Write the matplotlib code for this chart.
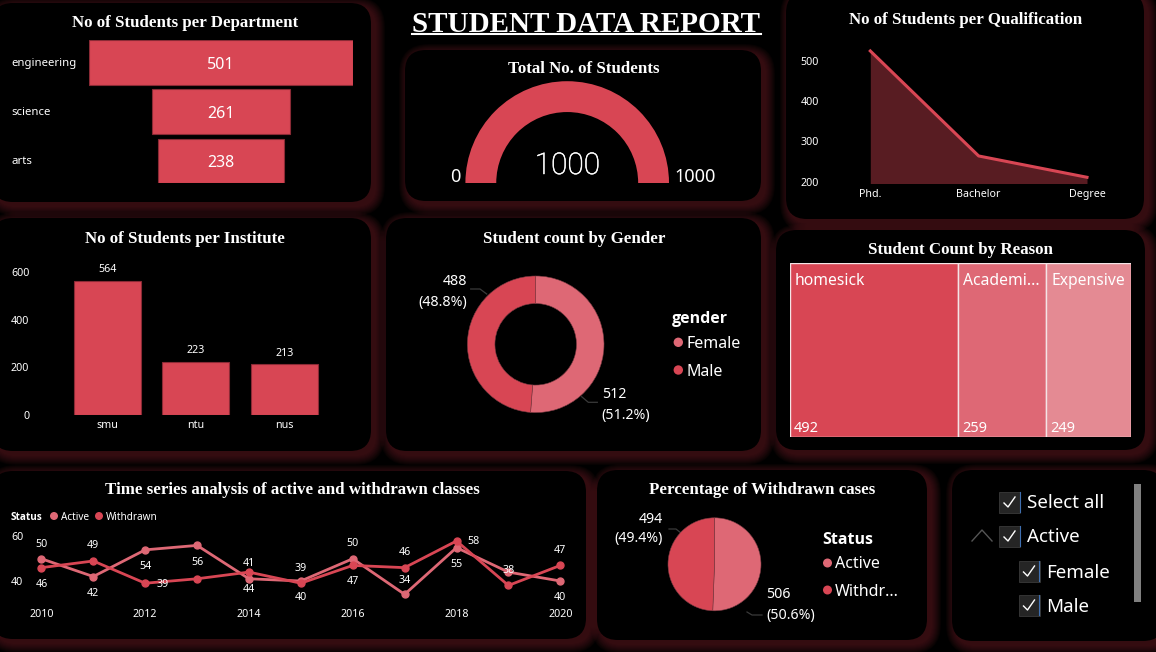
"""Student data report dashboard, dark theme."""
import matplotlib
matplotlib.use("Agg")
import matplotlib.pyplot as plt
import matplotlib.patheffects as pe
from matplotlib.patches import FancyBboxPatch, Rectangle, Circle

W, H = 1156, 652
RED = "#D84654"
RED2 = "#DE6875"
RED3 = "#E48A93"
EDGE = "#8A2A35"
SANS = "Noto Sans"
SANS_BOLD = "Open Sans"
SERIF = "Liberation Serif"

# data
departments = ["engineering", "science", "arts"]
department_counts = [501, 261, 238]
total_students = 1000
gauge_max = 1000
qualifications = ["Phd.", "Bachelor", "Degree"]
qualification_counts = [525, 264, 211]
institutes = ["smu", "ntu", "nus"]
institute_counts = [564, 223, 213]
genders = ["Female", "Male"]
gender_counts = [512, 488]
reason_labels = ["homesick", "Academi...", "Expensive"]
reason_counts = [492, 259, 249]
years = [2010, 2011, 2012, 2013, 2014, 2015, 2016, 2017, 2018, 2019, 2020]
active = [50, 42, 54, 56, 41, 40, 50, 34, 55, 44, 40]
withdrawn = [46, 49, 39, 41, 44, 39, 47, 46, 58, 38, 47]
status_names = ["Active", "Withdrawn"]
status_counts = [506, 494]
slicer_items = ["Select all", "Active", "Female", "Male"]

# label offsets in pixels, None = label hidden in the original
active_off = [(0, 15), (0, -16), (0, -16), (0, -16), (0, 16), (0, -16),
              (0, 16), (0, 15), (0, -16), None, (0, -16)]
withdrawn_off = [(0, -16), (0, 16), (17, 0), None, (0, -16), (0, 16),
                 (0, -15), (0, 16), (17, 0), (0, 16), (0, 16)]

panels = [(-8, 3, 371, 202), (405, 50, 761, 201), (786, -8, 1144, 219),
          (-8, 218, 371, 451), (386, 218, 761, 451), (776, 230, 1145, 450),
          (-8, 471, 586, 639), (597, 470, 927, 640), (952, 470, 1164, 641)]

fig = plt.figure(figsize=(W / 100, H / 100), dpi=100, facecolor="black")
bg = fig.add_axes([0, 0, 1, 1])
bg.set_xlim(0, W)
bg.set_ylim(H, 0)
bg.axis("off")


def px_axes(x0, y0, x1, y1):
    ax = fig.add_axes([x0 / W, 1 - y1 / H, (x1 - x0) / W, (y1 - y0) / H])
    ax.patch.set_alpha(0)
    for s in ax.spines.values():
        s.set_visible(False)
    ax.tick_params(length=0, colors="white")
    return ax


def style_ticks(ax, size=7.7, padx=3, pady=3):
    ax.tick_params(axis="x", pad=padx, labelsize=size)
    ax.tick_params(axis="y", pad=pady, labelsize=size)
    for t in ax.get_xticklabels() + ax.get_yticklabels():
        t.set_family(SANS)


def label(x, y, s, size=8, ha="left", weight="normal", family=SANS):
    bg.text(x, y + 1.5, s, color="white", fontsize=size, ha=ha, va="center",
            fontweight=weight, family=family)


def title(x, y, s):
    label(x, y, s, size=12.2, ha="center", weight="bold", family=SERIF)


def leader(xs, ys):
    bg.plot(xs, ys, color="#3a3a3a", lw=0.9, zorder=3)


# glow first, then all the black cards over it
for x0, y0, x1, y1 in panels:
    for grow in range(10, 0, -1):
        bg.add_patch(FancyBboxPatch(
            (x0 + 4 - grow, y0 + 4 - grow), x1 - x0 + 2 * grow, y1 - y0 + 2 * grow,
            boxstyle=f"round,pad=0,rounding_size={20 + grow}",
            fc="#8A2A32", ec="none", alpha=0.05))
for x0, y0, x1, y1 in panels:
    bg.add_patch(FancyBboxPatch((x0, y0), x1 - x0, y1 - y0,
                                boxstyle="round,pad=0,rounding_size=21",
                                fc="black", ec="none"))

# header
label(586, 23, "STUDENT DATA REPORT", size=21, ha="center", weight="bold", family=SERIF)
bg.plot([411.7, 760.7], [34, 34], color="white", lw=1.5)

# funnel
title(185, 21.7, "No of Students per Department")
ax = px_axes(89.3, 40.3, 352.7, 183)
lefts = [-v / 2 for v in department_counts]
bars = ax.barh(range(3), department_counts, left=lefts, height=0.906,
               color=RED, edgecolor=EDGE, linewidth=0.8)
ax.set_xlim(-250.5, 250.5)
ax.set_ylim(2.453, -0.453)
ax.set_xticks([])
ax.set_yticks([])
for i, (name, v) in enumerate(zip(departments, department_counts)):
    ax.annotate(str(v), (0, i), xytext=(0, -2), textcoords="offset pixels", color="white",
                ha="center", va="center", fontsize=11.5, family=SANS)
    ax.annotate(name, (0, i), xycoords=("axes fraction", "data"), xytext=(-78, -1),
                textcoords="offset pixels", color="white", fontsize=8.2, va="center", family=SANS)

# gauge
title(584, 67.7, "Total No. of Students")
ax = px_axes(567.2 - 101.8, 183 - 101.8, 567.2 + 101.8, 183 + 101.8)
ax.pie([total_students, gauge_max], colors=[RED, "none"], startangle=180,
       counterclock=False, radius=1, wedgeprops={"width": 0.303})
ax.set_xlim(-1, 1)
ax.set_ylim(-1, 1)
bg.text(567.5, 166, str(total_students), color="white", fontsize=21.5, ha="center", va="center",
        family="Roboto", fontweight="light",
        path_effects=[pe.withStroke(linewidth=0.4, foreground="white")])
label(455, 175.7, "0", size=13, ha="center")
label(674, 175.7, str(gauge_max), size=13)

# area
title(966, 18.3, "No of Students per Qualification")
ax = px_axes(870.3, 45, 1087, 183)
ax.fill_between(range(3), qualification_counts, 0, color=RED, alpha=0.41, lw=0)
ax.plot(range(3), qualification_counts, color=RED, lw=2.2, clip_on=False)
ax.set_xlim(0, 2)
ax.set_ylim(196.8, 539.8)
ax.set_xticks(range(3), qualifications)
ax.set_yticks([200, 300, 400, 500])
style_ticks(ax, padx=4.5, pady=37)

# institute bars
title(185, 237.7, "No of Students per Institute")
ax = px_axes(40, 272, 340, 415)
bars = ax.bar(range(3), institute_counts, width=0.757, color=RED, edgecolor=EDGE, linewidth=0.8)
ax.bar_label(bars, padding=4, color="white", fontsize=7.7, family=SANS)
ax.set_xlim(-0.76, 2.63)
ax.set_ylim(0, 600)
ax.set_xticks(range(3), institutes)
ax.set_yticks([0, 200, 400, 600])
style_ticks(ax, padx=3.5, pady=7.7)

# donut
title(574, 237.3, "Student count by Gender")
ax = px_axes(535.7 - 68.3, 344.3 - 68.3, 535.7 + 68.3, 344.3 + 68.3)
ax.pie(gender_counts, colors=[RED2, RED], startangle=90, counterclock=False, radius=1,
       wedgeprops={"width": 0.403, "edgecolor": "#7a3a42", "linewidth": 0.4})
ax.set_xlim(-1, 1)
ax.set_ylim(-1, 1)
leader([486.7, 480, 470.7], [294, 289, 289])
leader([581.7, 588.3, 597.3], [396.7, 402.3, 402.3])
label(467.3, 280, f"{gender_counts[1]}", size=10.2, ha="right")
label(467.3, 300.7, f"({gender_counts[1] / 10:.1f}%)", size=10.2, ha="right")
label(601.7, 392.7, f"{gender_counts[0]}", size=10.2)
label(601.7, 414, f"({gender_counts[0] / 10:.1f}%)", size=10.2)
label(671.7, 317.7, "gender", size=11.5, weight="bold", family=SANS_BOLD)
for y, name, col in zip([342.3, 370], genders, [RED2, RED]):
    bg.add_patch(Circle((678.3, y), 4.7, fc=col, ec="none"))
    label(686, y, name, size=11.5)

# treemap
title(961, 248.3, "Student Count by Reason")
ax = px_axes(790, 263.3, 1131, 437.3)
left = 0
for name, v, col in zip(reason_labels, reason_counts, [RED, RED2, RED3]):
    ax.barh(0, v, left=left, height=1, color=col, edgecolor="#F4E4E6", linewidth=1)
    ax.annotate(name, (left, 1), xycoords=("data", "axes fraction"), xytext=(5, -17.5),
                textcoords="offset pixels", color="white", fontsize=11.3, va="center", family=SANS)
    ax.annotate(str(v), (left, 0), xycoords=("data", "axes fraction"), xytext=(4, 9),
                textcoords="offset pixels", color="white", fontsize=10.5, va="center", family=SANS)
    left += v
ax.set_xlim(0, sum(reason_counts))
ax.set_ylim(-0.5, 0.5)
ax.set_xticks([])
ax.set_yticks([])

# time series
title(292.7, 488.3, "Time series analysis of active and withdrawn classes")
label(10.5, 516, "Status", size=7.2, weight="bold", family=SANS_BOLD)
for x, name, col in zip([54, 99], status_names, [RED2, RED]):
    bg.add_patch(Circle((x, 516), 4, fc=col, ec="none"))
    label(x + 7, 516, name, size=7.2)
ax = px_axes(41.4, 536.5, 560.3, 603.25)
for vals, offs, col in [(active, active_off, RED2), (withdrawn, withdrawn_off, RED)]:
    ax.plot(years, vals, color=col, lw=2, marker="o", ms=5, clip_on=False)
    for x, y, off in zip(years, vals, offs):
        if off is not None:
            ax.annotate(str(y), (x, y), xytext=(off[0], off[1] - 1), textcoords="offset pixels",
                        color="white", fontsize=7.7, ha="center", va="center", family=SANS)
ax.set_xlim(2010, 2020)
ax.set_ylim(30, 60)
ax.set_xticks(years[::2], [str(y) for y in years[::2]])
ax.set_yticks([40, 60])
style_ticks(ax, padx=4, pady=13)

# pie
title(762, 488.3, "Percentage of Withdrawn cases")
ax = px_axes(714.5 - 46.5, 564.3 - 46.5, 714.5 + 46.5, 564.3 + 46.5)
ax.pie(status_counts, colors=[RED2, RED], startangle=90, counterclock=False, radius=1,
       wedgeprops={"edgecolor": "#7a3a42", "linewidth": 0.4})
ax.set_xlim(-1, 1)
ax.set_ylim(-1, 1)
leader([669, 676, 681], [529, 529, 533])
leader([747, 752, 762], [612, 615, 615])
label(663, 517.7, f"{status_counts[1]}", size=10.2, ha="right")
label(663, 537, f"({status_counts[1] / 10:.1f}%)", size=10.2, ha="right")
label(766, 593, f"{status_counts[0]}", size=10.2)
label(766, 614, f"({status_counts[0] / 10:.1f}%)", size=10.2)
label(822, 538, "Status", size=11.5, weight="bold", family=SANS_BOLD)
for y, name, col in zip([563, 590], ["Active", "Withdr..."], [RED2, RED]):
    bg.add_patch(Circle((827.5, y), 4.5, fc=col, ec="none"))
    label(835, y, name, size=11.5)

# slicer
for name, x, y in zip(slicer_items, [999, 999, 1018.5, 1018.5], [502, 536, 571, 605]):
    bg.add_patch(Rectangle((x, y - 10.5), 21, 21, fc="#252525", ec="#3a3a3a", lw=0.6))
    bg.plot([x + 20.5, x + 20.5], [y - 10, y + 10], color="#3f6fb0", lw=0.8)
    bg.plot([x + 5, x + 9, x + 16], [y + 1, y + 5, y - 5], color="white", lw=1)
    label(x + 28, y, name, size=13.5)
bg.plot([972, 982, 992], [541, 530, 541], color="#555555", lw=1)
bg.add_patch(Rectangle((1134, 484), 7, 118, fc="#808080", ec="none"))

fig.savefig("out.png", dpi=100, facecolor="black")
